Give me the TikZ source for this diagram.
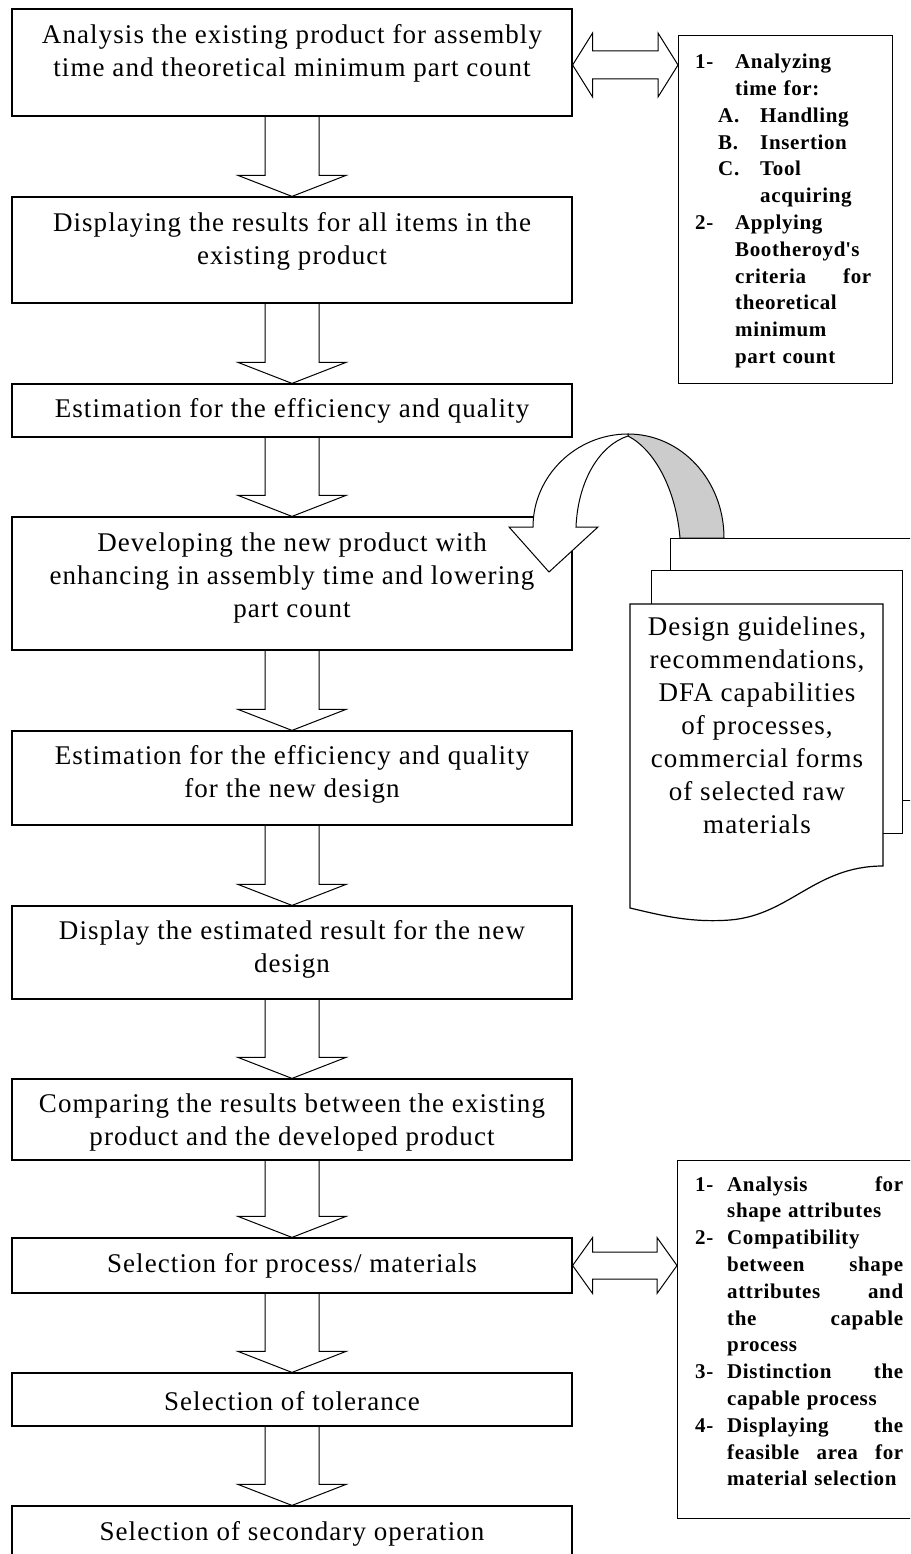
\documentclass[tikz,border=0pt]{standalone}
\usepackage{fontspec}
\usetikzlibrary{calc}
\newfontfamily\mainfnt{Liberation Serif}[LetterSpace=4]
\newfontfamily\sidefnt{Liberation Serif}[LetterSpace=3]

\tikzset{
  box/.style={draw, line width=1.2pt, minimum width=560pt, inner sep=0pt, fill=white},
  lbl/.style={font=\mainfnt\fontsize{27}{33}\selectfont, align=center, inner sep=0pt},
  sidebox/.style={draw, line width=1.2pt, inner sep=0pt, fill=white, anchor=north west},
  sidetext/.style={font=\sidefnt\bfseries\fontsize{21}{26.8}\selectfont,
    text width=#1, align=left, inner sep=0pt, anchor=north west},
  blk/.style={draw, line width=1pt, line join=miter},
  page/.style={draw, line width=1.2pt, fill=white},
}

% hollow block arrow pointing down from one box to the next
\newcommand\blockdown[2]{%
  \draw[blk] let \p1=(#1.south), \p2=(#2.north) in
    (\x1-27pt,\y1) -- (\x1-27pt,\y2+21pt) -- (\x1-54pt,\y2+21pt) -- (\x1,\y2)
    -- (\x1+54pt,\y2+21pt) -- (\x1+27pt,\y2+21pt) -- (\x1+27pt,\y1);}

% hollow two-headed block arrow: left node, right node, y, head half-height, shaft half-height
\newcommand\blockboth[5]{%
  \draw[blk, fill=white] let \p1=(#1.east), \p2=(#2.west), \p3=(0,#3) in
    (\x1,\y3) -- (\x1+20pt,\y3+#4) -- (\x1+20pt,\y3+#5) -- (\x2-20pt,\y3+#5)
    -- (\x2-20pt,\y3+#4) -- (\x2,\y3) -- (\x2-20pt,\y3-#4) -- (\x2-20pt,\y3-#5)
    -- (\x1+20pt,\y3-#5) -- (\x1+20pt,\y3-#4) -- cycle;}

\begin{document}
\begin{tikzpicture}[x=1pt,y=-1pt]
\clip (0,0) rectangle (910,1554);
\fill[white] (0,0) rectangle (910,1554);

% main process boxes
\node[box, minimum height=107pt] (b1)  at (292,62.5)  {};
\node[box, minimum height=106pt] (b2)  at (292,250)   {};
\node[box, minimum height=53pt]  (b3)  at (292,410.5) {};
\node[box, minimum height=133pt] (b4)  at (292,583.5) {};
\node[box, minimum height=94pt]  (b5)  at (292,778)   {};
\node[box, minimum height=93pt]  (b6)  at (292,952.5) {};
\node[box, minimum height=81pt]  (b7)  at (292,1119.5){};
\node[box, minimum height=55pt]  (b8)  at (292,1265.5){};
\node[box, minimum height=53pt]  (b9)  at (292,1399.5){};
\node[box, minimum height=94pt]  (b10) at (292,1553)  {};

% box texts
\node[lbl] (t1) at (292,53)  {Analysis the existing product for assembly\\time and theoretical minimum part count};
\node[lbl] (t2) at (292,241) {Displaying the results for all items in the\\existing product};
\node[lbl] (t3) at (292,411) {Estimation for the efficiency and quality};
\node[lbl] (t4) at (292,578) {Developing the new product with\\enhancing in assembly time and lowering\\part count};
\node[lbl] (t5) at (292,774) {Estimation for the efficiency and quality\\for the new design};
\node[lbl] (t6) at (292,949) {Display the estimated result for the new\\design};
\begin{scope}
  \clip (14,1081) rectangle (570,1150);
  \node[lbl] (t7) at (292,1122) {Comparing the results between the existing\\product and the developed product};
\end{scope}
\node[lbl] (t8)  at (292,1266) {Selection for process/ materials};
\node[lbl] (t9)  at (292,1401) {Selection of tolerance};
\node[lbl] (t10) at (292,1534) {Selection of secondary operation};

% flow between the boxes
\blockdown{b1}{b2}
\blockdown{b2}{b3}
\blockdown{b3}{b4}
\blockdown{b4}{b5}
\blockdown{b5}{b6}
\blockdown{b6}{b7}
\blockdown{b7}{b8}
\blockdown{b8}{b9}
\blockdown{b9}{b10}

% side notes
\node[sidebox, minimum width=214pt, minimum height=348pt] (r1) at (678,35) {};
\node[sidetext=176pt] (s1) at (695,54) {%
\makebox[40pt][l]{1-}Analyzing\\
\hspace*{40pt}time for:\\
\hspace*{23pt}\makebox[42pt][l]{A.}Handling\\
\hspace*{23pt}\makebox[42pt][l]{B.}Insertion\\
\hspace*{23pt}\makebox[42pt][l]{C.}Tool\\
\hspace*{65pt}acquiring\\
\makebox[40pt][l]{2-}Applying\\
\hspace*{40pt}Bootheroyd\textquotesingle s\\
\hspace*{40pt}criteria\hfill for\\
\hspace*{40pt}theoretical\\
\hspace*{40pt}minimum\\
\hspace*{40pt}part count};

\node[sidebox, minimum width=241pt, minimum height=358pt] (r2) at (677,1160) {};
\node[sidetext=208pt] (s2) at (695,1176) {%
\makebox[32pt][l]{1-}Analysis\hfill for\\
\hspace*{32pt}shape attributes\\
\makebox[32pt][l]{2-}Compatibility\\
\hspace*{32pt}between\hfill shape\\
\hspace*{32pt}attributes\hfill and\\
\hspace*{32pt}the\hfill capable\\
\hspace*{32pt}process\\
\makebox[32pt][l]{3-}Distinction\hfill the\\
\hspace*{32pt}capable process\\
\makebox[32pt][l]{4-}Displaying\hfill the\\
\hspace*{32pt}feasible\hfill area\hfill for\\
\hspace*{32pt}material selection};

\blockboth{b1}{r1}{65}{32pt}{14pt}
\blockboth{b8}{r2}{1265.5}{28pt}{13.5pt}

% stack of reference documents
\node[page, sidebox, minimum width=260pt, minimum height=262pt] (pg3) at (670,538) {};
\node[page, sidebox, minimum width=251pt, minimum height=263pt] (pg2) at (651,570) {};
\draw[page] (630,604) -- (883,604) -- (883,866)
  .. controls (815,866) and (790,915) .. (730,920)
  .. controls (690,923) and (660,915) .. (630,908) -- cycle;
\node[lbl] (doc) at (757,725) {Design guidelines,\\recommendations,\\DFA capabilities\\of processes,\\commercial forms\\of selected raw\\materials};

% curved feedback arrow from the documents into the design step
\draw[blk, fill=black!20] (628,436) .. controls (655,450) and (676,490) .. (680,538)
  -- (724,538) .. controls (724,480) and (681,434) .. (628,434) -- cycle;
\draw[blk, fill=white] (533,527) .. controls (533,476) and (576,434) .. (628,434)
  -- (628,436) .. controls (600,445) and (578,480) .. (576,527)
  -- (598,527) -- (549,572) -- (509,527) -- cycle;

\end{tikzpicture}
\end{document}
